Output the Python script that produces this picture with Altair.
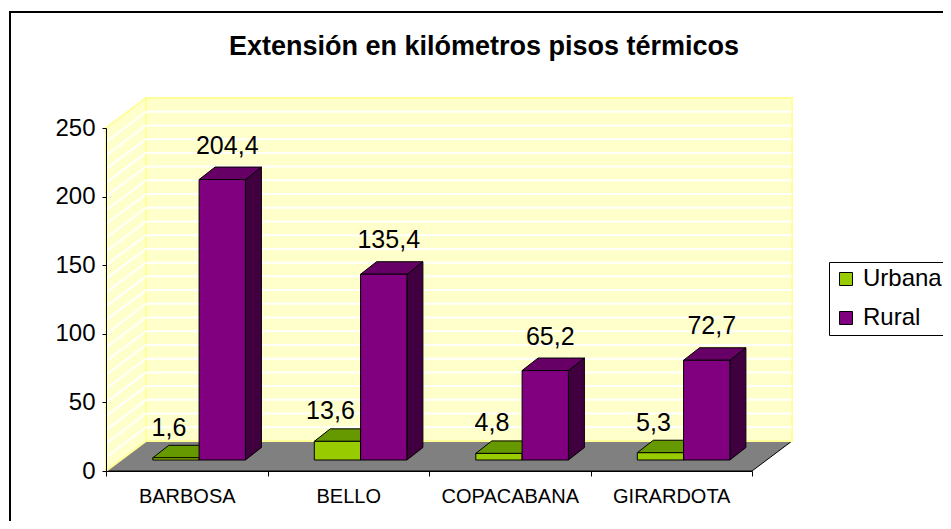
import altair as alt
import pandas as pd

# ---------------- data ----------------
categories = ["BARBOSA", "BELLO", "COPACABANA", "GIRARDOTA"]
series = ["Urbana", "Rural"]
urbana = [1.6, 13.6, 4.8, 5.3]
rural = [204.4, 135.4, 65.2, 72.7]
y_ticks = [0, 50, 100, 150, 200, 250]
minor_grid = [10, 20, 30, 40, 50, 60, 70, 80, 90, 100, 110, 120,
              130, 140, 150, 160, 170, 180, 190, 200, 210, 220, 230, 240]

front_colors = ["#99CC00", "#800080"]
top_colors = ["#669900", "#660066"]
side_colors = ["#4C6600", "#400040"]

FONT = "Liberation Sans"

# ---------------- layout (pixel -> data units) ----------------
W, H = 646, 343
YMAX = 250
NCAT = len(categories)
PX_X = W / NCAT
PX_Y = H / YMAX


def ux(px):
    return px / PX_X


def uy(px):
    return px / PX_Y


FLOOR_DX, FLOOR_DY = ux(40), uy(30)
BAR_START, BAR_W = ux(46.8), ux(46.3)
BAR_Y0 = uy(11)
DEPTH_DX, DEPTH_DY = ux(16), uy(12.5)
LABEL_DY = [uy(22), uy(26)]
LABEL_DX = [ux(-7), ux(5)]

values = [urbana, rural]

front_rows, poly_rows, label_rows = [], [], []
for i, cat in enumerate(categories):
    for s, name in enumerate(series):
        v = values[s][i]
        x0 = i + BAR_START + s * BAR_W
        x1 = x0 + BAR_W
        y0 = BAR_Y0
        y1 = v + BAR_Y0
        front_rows.append(dict(cat=cat, series=name, value=v, x0=x0, x1=x1, y0=y0, y1=y1))
        sid = f"side-{i}-{s}"
        poly_rows += [
            dict(id=sid, layer=0, x=x1, y=y1, y2=y0, fill=side_colors[s]),
            dict(id=sid, layer=0, x=x1 + DEPTH_DX, y=y1 + DEPTH_DY, y2=y0 + DEPTH_DY, fill=side_colors[s]),
        ]
        tid = f"top-{i}-{s}"
        poly_rows += [
            dict(id=tid, layer=1, x=x0, y=y1, y2=y1, fill=top_colors[s]),
            dict(id=tid, layer=1, x=x0 + DEPTH_DX, y=y1 + DEPTH_DY, y2=y1, fill=top_colors[s]),
            dict(id=tid, layer=1, x=x1, y=y1 + DEPTH_DY, y2=y1, fill=top_colors[s]),
            dict(id=tid, layer=1, x=x1 + DEPTH_DX, y=y1 + DEPTH_DY, y2=y1 + DEPTH_DY, fill=top_colors[s]),
        ]
        label_rows.append(dict(x=(x0 + x1) / 2 + LABEL_DX[s], y=y1 + LABEL_DY[s],
                               text=f"{v:.1f}".replace(".", ",")))

front_df = pd.DataFrame(front_rows)
poly_df = pd.DataFrame(poly_rows)
label_df = pd.DataFrame(label_rows)

floor_df = pd.DataFrame([
    dict(id="floor", x=0, y=0, y2=0),
    dict(id="floor", x=FLOOR_DX, y=FLOOR_DY, y2=0),
    dict(id="floor", x=NCAT, y=FLOOR_DY, y2=0),
    dict(id="floor", x=NCAT + FLOOR_DX, y=FLOOR_DY, y2=FLOOR_DY),
])
leftwall_df = pd.DataFrame([
    dict(id="lw", x=0, y=YMAX, y2=0),
    dict(id="lw", x=FLOOR_DX, y=YMAX + FLOOR_DY, y2=FLOOR_DY),
])
backwall_df = pd.DataFrame([dict(x=FLOOR_DX, x2=NCAT + FLOOR_DX, y=FLOOR_DY, y2=YMAX + FLOOR_DY)])
backgrid_df = pd.DataFrame([dict(x=FLOOR_DX, x2=NCAT + FLOOR_DX, y=g + FLOOR_DY) for g in minor_grid])
leftgrid_df = pd.DataFrame([dict(x=0, x2=FLOOR_DX, y=g, y2=g + FLOOR_DY) for g in minor_grid])

# ---------------- scales & axes ----------------
xs = alt.Scale(domain=[0, NCAT], nice=False, zero=False)
ys = alt.Scale(domain=[0, YMAX], nice=False, zero=False)
label_expr = "[" + ",".join(f"'{c}'" for c in categories) + "][datum.value] || ''"
xaxis = alt.Axis(title=None, values=list(range(NCAT + 1)), labelExpr=label_expr,
                 labelOffset=PX_X / 2, labelFontSize=20, labelFont=FONT, labelColor="black",
                 labelPadding=10, labelOverlap=False, labelBound=False, labelFlush=False,
                 tickSize=5, tickColor="black", domainColor="black", grid=False, zindex=1)
yaxis = alt.Axis(title=None, values=y_ticks, labelFontSize=24, labelFont=FONT, labelColor="black",
                 labelPadding=7, tickSize=4, tickColor="black", domainColor="black",
                 grid=False, zindex=1)


def X(f):
    return alt.X(f, scale=xs, axis=xaxis)


def Y(f):
    return alt.Y(f, scale=ys, axis=yaxis, stack=None)


border = alt.Chart(pd.DataFrame([{"a": 1}])).mark_rect(
    fillOpacity=0, stroke="black", strokeWidth=2
).encode(x=alt.value(-96), x2=alt.value(900), y=alt.value(-116), y2=alt.value(600))

floor = alt.Chart(floor_df).mark_area(fill="#808080", stroke="black", strokeWidth=1).encode(
    x=X("x:Q"), y=Y("y:Q"), y2="y2:Q", detail="id:N")

backwall = alt.Chart(backwall_df).mark_rect(fill="#FFFFCC", stroke="#FFFF99", strokeWidth=2).encode(
    x=X("x:Q"), x2="x2:Q", y=Y("y:Q"), y2="y2:Q")

leftwall = alt.Chart(leftwall_df).mark_area(fill="#FFFFCC", stroke="#FFFF99", strokeWidth=2).encode(
    x=X("x:Q"), y=Y("y:Q"), y2="y2:Q", detail="id:N")

backgrid = alt.Chart(backgrid_df).mark_rule(color="white", strokeWidth=2).encode(
    x=X("x:Q"), x2="x2:Q", y=Y("y:Q"))

leftgrid = alt.Chart(leftgrid_df).mark_rule(color="white", strokeWidth=2).encode(
    x=X("x:Q"), x2="x2:Q", y=Y("y:Q"), y2="y2:Q")

sides = alt.Chart(poly_df[poly_df.layer == 0]).mark_area(stroke="black", strokeWidth=1).encode(
    x=X("x:Q"), y=Y("y:Q"), y2="y2:Q", detail="id:N", color=alt.Color("fill:N", scale=None))

tops = alt.Chart(poly_df[poly_df.layer == 1]).mark_area(stroke="black", strokeWidth=1).encode(
    x=X("x:Q"), y=Y("y:Q"), y2="y2:Q", detail="id:N", color=alt.Color("fill:N", scale=None))

fronts = alt.Chart(front_df).mark_rect(stroke="black", strokeWidth=1).encode(
    x=X("x0:Q"), x2="x1:Q", y=Y("y0:Q"), y2="y1:Q",
    color=alt.Color("series:N", scale=alt.Scale(domain=series, range=front_colors),
                    legend=alt.Legend(title=None, orient="none", legendX=723, legendY=134,
                                      symbolType="square", symbolSize=169,
                                      symbolStrokeColor="black", symbolStrokeWidth=1,
                                      labelFontSize=24, labelFont=FONT, labelColor="black",
                                      labelOffset=5, rowPadding=15, padding=5,
                                      strokeColor="black", fillColor="white")))

labels = alt.Chart(label_df).mark_text(fontSize=25, font=FONT, color="black",
                                       align="center", baseline="alphabetic").encode(
    x=X("x:Q"), y=Y("y:Q"), text="text:N")

chart = alt.layer(border, floor, backwall, leftwall, backgrid, leftgrid, sides, tops, fronts, labels).properties(
    width=W, height=H,
    padding={"left": 98, "top": 120, "right": 191, "bottom": 50},
    autosize=alt.AutoSizeParams(type="none"),
    title=alt.TitleParams("Extensión en kilómetros pisos térmicos", fontSize=27, font=FONT,
                          fontWeight="bold", color="black", anchor="middle", frame="group",
                          baseline="alphabetic", offset=-41, dx=55, dy=30),
).configure_view(strokeWidth=0).configure(background="white")

chart.save("out.html", embed_options={"renderer": "svg", "actions": False})
